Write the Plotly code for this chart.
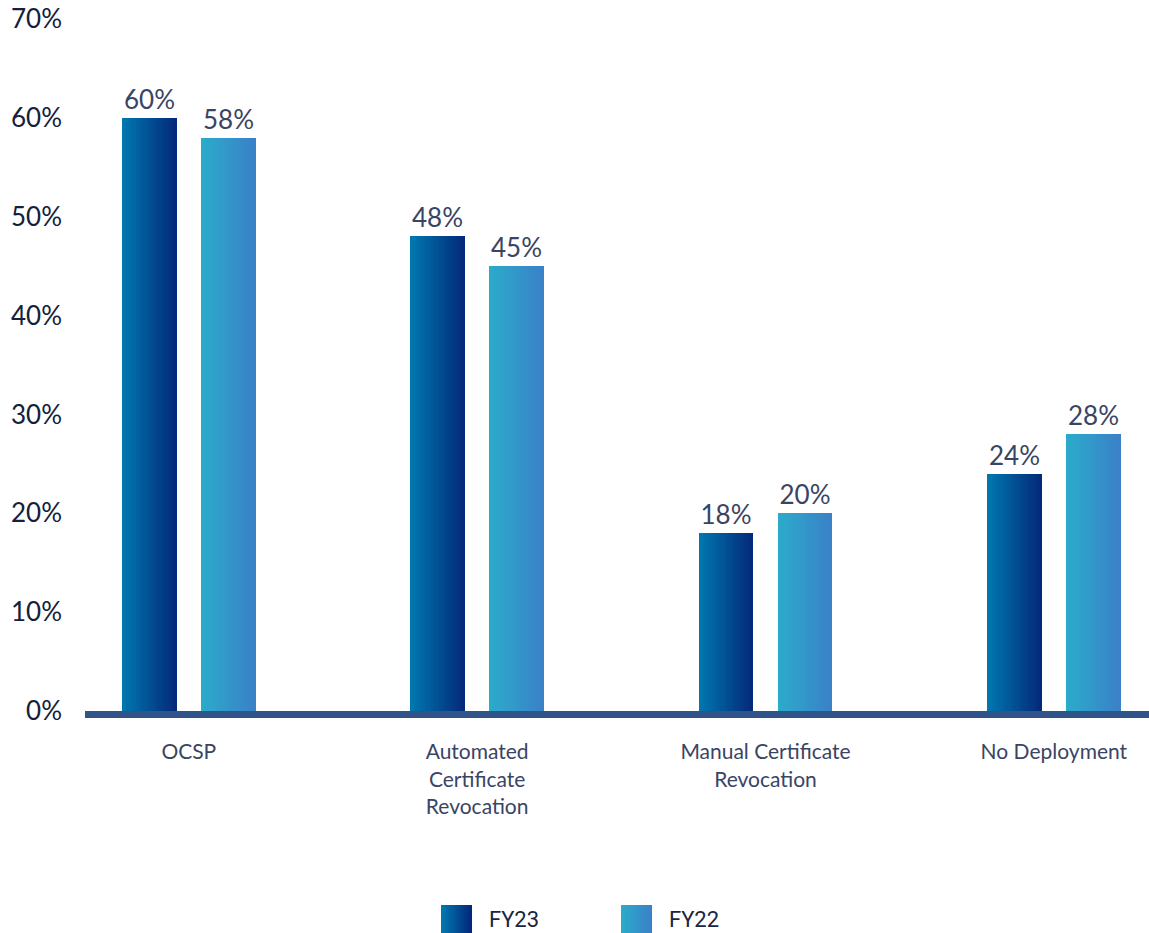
import plotly.graph_objects as go

categories = ["OCSP", "Automated<br>Certificate<br>Revocation",
              "Manual Certificate<br>Revocation", "No Deployment"]
series_names = ["FY23", "FY22"]
fy23 = [60, 48, 18, 24]
fy22 = [58, 45, 20, 28]
y_ticks = [0, 10, 20, 30, 40, 50, 60, 70]
y_tick_labels = ["0%", "10%", "20%", "30%", "40%", "50%", "60%", "70%"]

# style
grad = {"FY23": ((0x00, 0x77, 0xAF), (0x03, 0x29, 0x7A)),
        "FY22": ((0x2B, 0xAB, 0xCA), (0x3A, 0x81, 0xC8))}
bar_w = 0.19
offsets = {"FY23": -0.232, "FY22": 0.042}
N = 24
label_color = "#3a4464"


def mix(c0, c1, t):
    return "rgb(%d,%d,%d)" % tuple(round(a + (b - a) * t) for a, b in zip(c0, c1))


fig = go.Figure()
for name, vals in (("FY23", fy23), ("FY22", fy22)):
    c0, c1 = grad[name]
    for k in range(N):
        t = k / (N - 1)
        first = k == 0
        fig.add_trace(go.Bar(
            x=categories, y=vals, name=name,
            width=bar_w * (1 - k / N),
            offset=offsets[name] + bar_w * k / N,
            marker=dict(color=mix(c0, c1, t), line=dict(width=0)),
            text=[f"{v}%" for v in vals] if first else None,
            textposition="outside" if first else "none",
            textfont=dict(family="Lato", size=26, color=label_color),
            cliponaxis=False,
            showlegend=False, hoverinfo="skip" if not first else None,
        ))

# custom legend with gradient swatches
L, R, T, B = 85, 0, 19, 222
pw, ph = 1149 - L - R, 933 - T - B
def px(x):
    return (x - L) / pw
def py(y):
    return (933 - B - y) / ph

shapes = []
annotations = []
legend_x = {"FY23": 441, "FY22": 621}
for name in series_names:
    c0, c1 = grad[name]
    x0 = legend_x[name]
    M = 12
    for k in range(M):
        t = k / (M - 1)
        shapes.append(dict(type="rect", xref="paper", yref="paper",
                           x0=px(x0 + 31 * k / M), x1=px(x0 + 31),
                           y0=py(935), y1=py(905),
                           fillcolor=mix(c0, c1, t), line=dict(width=0), layer="above"))
    annotations.append(dict(xref="paper", yref="paper", x=px(x0 + 46), y=py(919),
                            text=name, showarrow=False, xanchor="left", yanchor="middle",
                            font=dict(family="Roboto", size=22, color="#1b2440")))

fig.update_layout(
    width=1149, height=933,
    margin=dict(l=L, r=R, t=T, b=B),
    paper_bgcolor="white", plot_bgcolor="white",
    barmode="overlay", bargap=0,
    showlegend=False,
    shapes=shapes, annotations=annotations,
    xaxis=dict(range=[-0.36, 3.33], showgrid=False, zeroline=False,
               showline=True, linewidth=7, linecolor="#30538a",
               ticks="", ticklabelstandoff=16,
               tickfont=dict(family="Lato", size=21, color=label_color)),
    yaxis=dict(range=[0, 70], tickvals=y_ticks, ticktext=y_tick_labels,
               showgrid=False, zeroline=False, showline=False, ticks="",
               ticklabelstandoff=22,
               tickfont=dict(family="Lato", size=26, color="#14203c")),
)

fig.write_html("out.html")
